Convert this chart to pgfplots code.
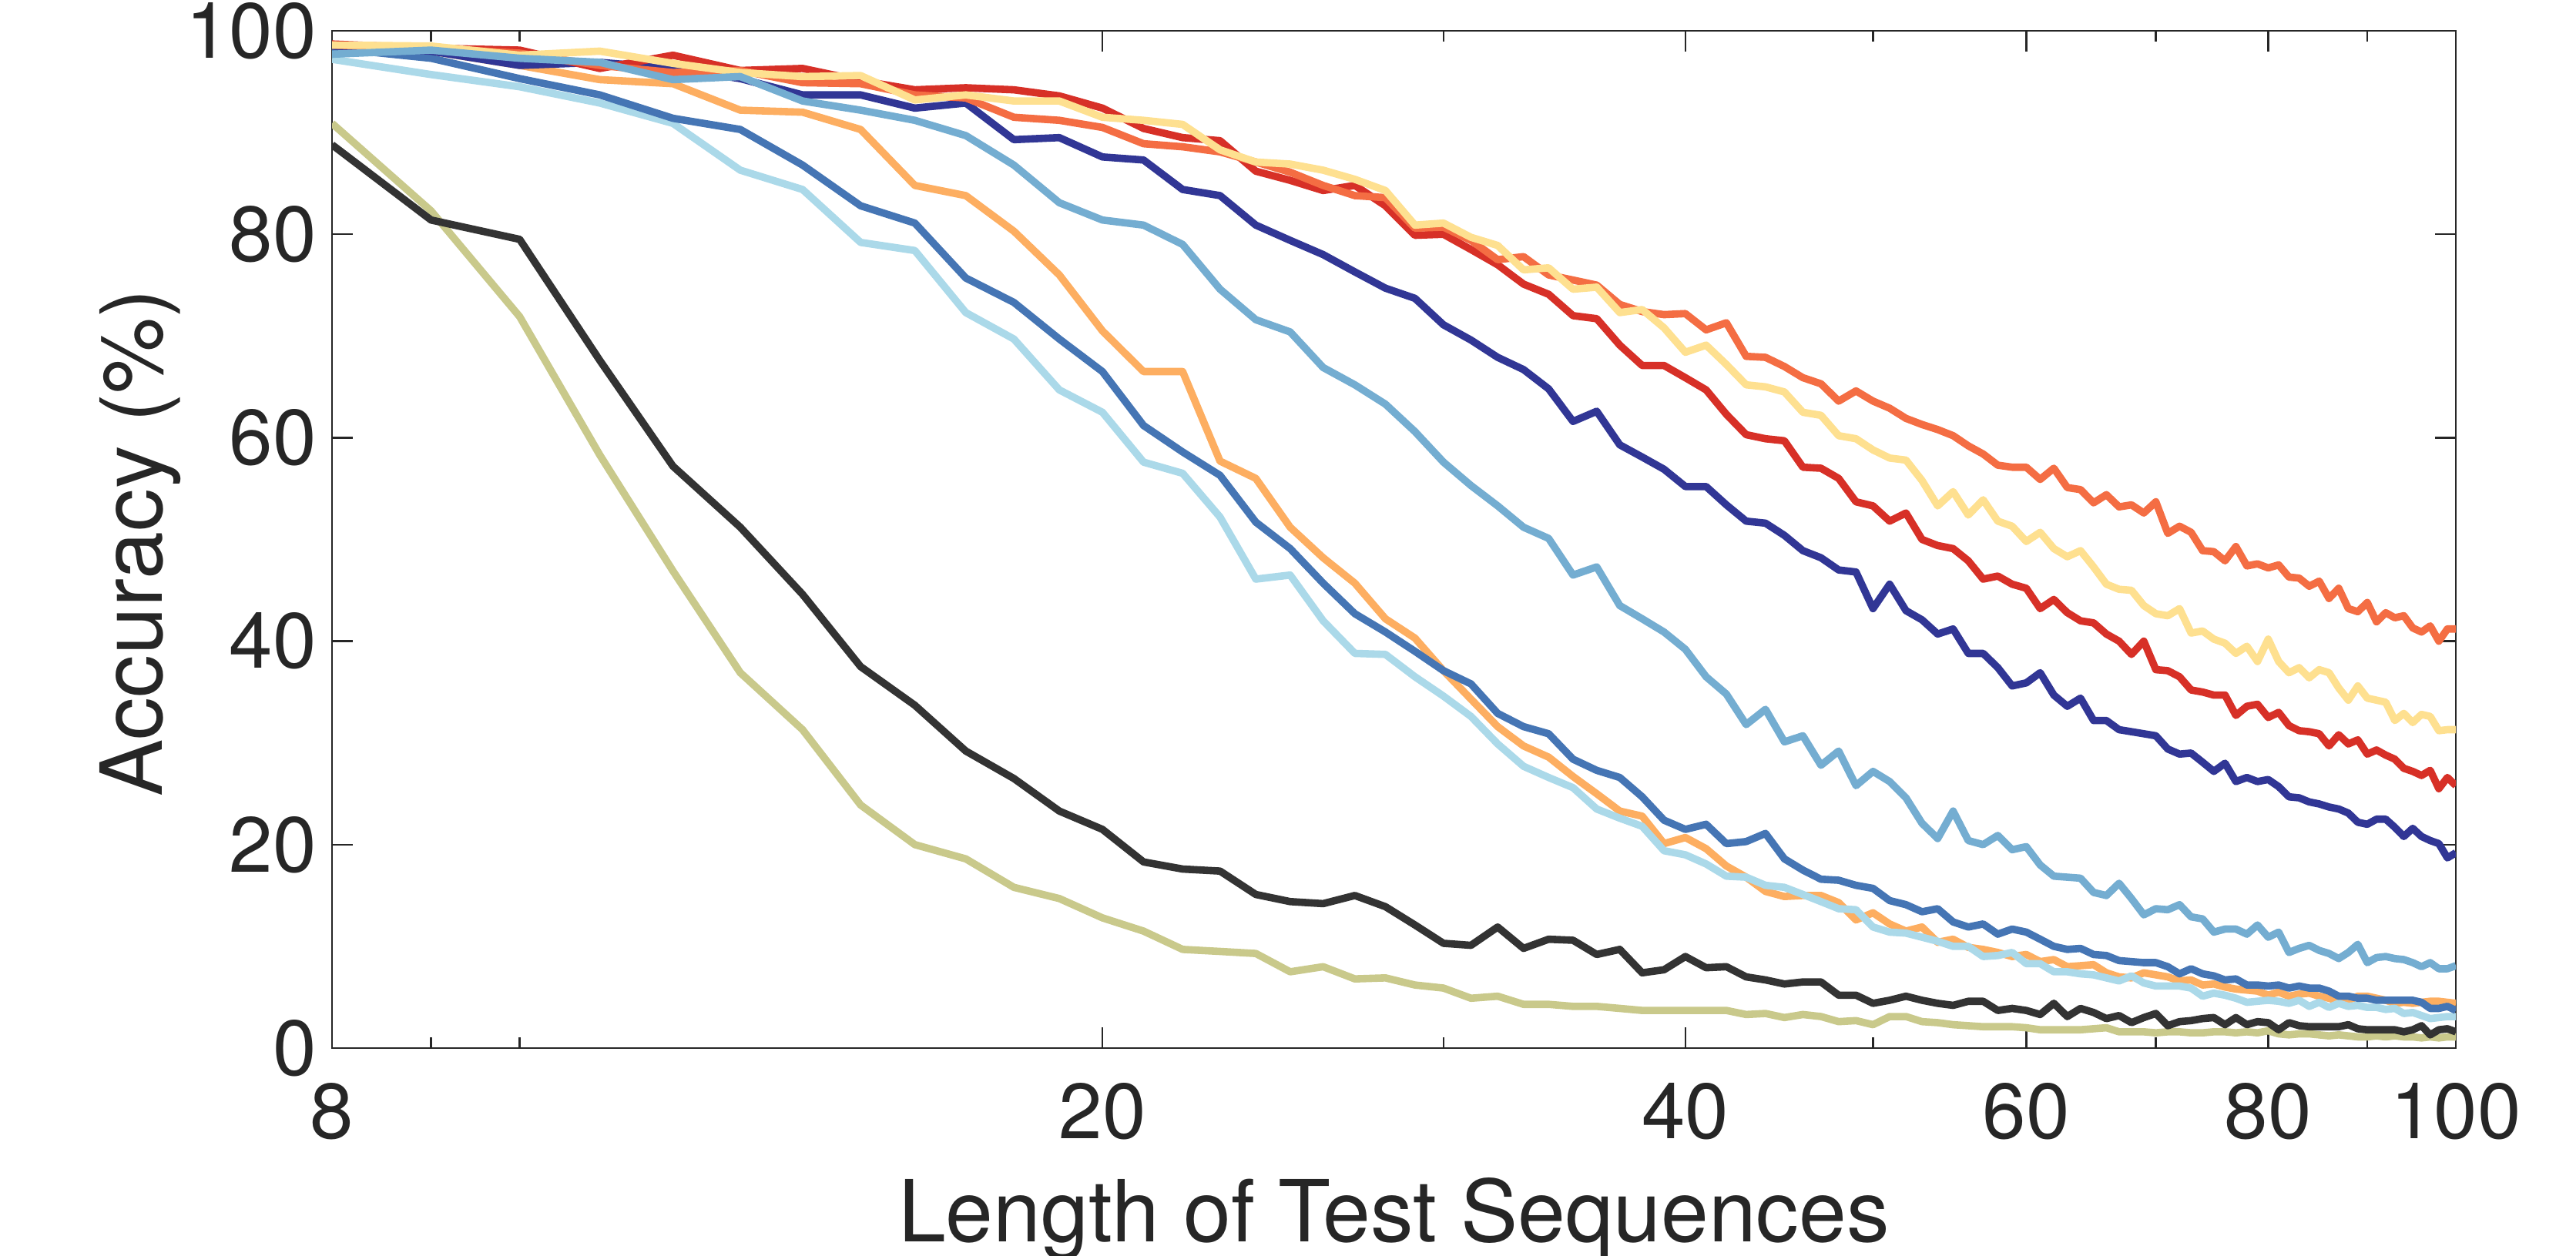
\documentclass[border=0pt]{standalone}
\usepackage{pgfplots}
\usepackage{pgfplotstable}
\pgfplotsset{compat=1.18}
\usepackage{fontspec}
\setmainfont{TeX Gyre Heros}
\definecolor{cR}{RGB}{215,48,39}
\definecolor{cO}{RGB}{244,109,67}
\definecolor{cY}{RGB}{254,224,144}
\definecolor{cA}{RGB}{253,174,97}
\definecolor{cDB}{RGB}{49,54,149}
\definecolor{cMB}{RGB}{69,117,180}
\definecolor{cLB}{RGB}{116,173,209}
\definecolor{cVB}{RGB}{171,217,233}
\definecolor{cK}{RGB}{51,51,51}
\definecolor{cG}{RGB}{201,201,139}
\definecolor{axgray}{RGB}{38,38,38}
\pgfplotstableread{
L red ored yel ora dblue mblue lblue vblue blk olv
8 98.7 98.6 98.6 98.6 98.5 98.3 97.7 97.2 88.8 90.9
9 98.3 98.3 98.5 98.0 98.0 97.3 98.1 95.7 81.4 82.3
10 98.1 97.8 97.6 96.6 96.6 95.3 97.3 94.5 79.5 71.9
11 96.3 96.6 98.0 95.2 96.9 93.7 96.9 92.9 67.6 58.3
12 97.6 95.9 96.8 94.8 96.3 91.4 95.2 90.9 57.2 46.9
13 96.1 96.1 95.9 92.2 95.3 90.3 95.5 86.3 51.2 36.9
14 96.3 94.9 95.5 92.0 93.7 86.8 93.1 84.4 44.6 31.3
15 95.1 94.8 95.6 90.3 93.7 82.8 92.2 79.2 37.5 23.9
16 94.2 93.7 93.2 84.8 92.4 81.1 91.2 78.4 33.7 20.0
17 94.4 93.4 93.7 83.8 92.9 75.7 89.7 72.3 29.2 18.6
18 94.2 91.5 93.1 80.3 89.3 73.3 86.8 69.7 26.5 15.8
19 93.6 91.2 93.1 76.0 89.5 69.7 83.1 64.7 23.3 14.7
20 92.4 90.5 91.5 70.5 87.6 66.5 81.4 62.5 21.5 12.8
21 90.4 88.9 91.2 66.5 87.3 61.2 80.9 57.6 18.3 11.5
22 89.5 88.6 90.8 66.5 84.4 58.6 79.0 56.5 17.6 9.7
23 89.2 88.1 88.3 57.7 83.8 56.3 74.6 52.2 17.4 9.5
24 86.2 87.1 87.1 56.0 80.9 51.7 71.6 46.1 15.1 9.3
25 85.3 86.1 86.9 51.2 79.4 49.1 70.4 46.5 14.4 7.5
26 84.3 84.8 86.3 48.2 78.0 45.7 66.9 42.0 14.2 8.0
27 84.8 83.8 85.4 45.7 76.3 42.7 65.2 38.8 15.0 6.8
28 82.8 83.6 84.3 42.2 74.7 40.9 63.3 38.7 13.9 6.9
29 79.9 80.6 80.9 40.3 73.7 39.0 60.6 36.5 12.1 6.2
30 80.0 80.7 81.1 37.1 71.1 37.1 57.6 34.6 10.3 5.9
31 78.5 79.4 79.7 34.3 69.6 35.8 55.3 32.6 10.1 4.9
32 77.0 77.5 78.9 31.6 67.9 32.9 53.3 29.9 11.9 5.1
33 75.1 77.8 76.5 29.7 66.7 31.6 51.2 27.7 9.8 4.3
34 74.1 76.0 76.7 28.6 64.8 30.9 50.1 26.6 10.7 4.3
35 72.0 75.5 74.6 26.7 61.6 28.4 46.5 25.6 10.6 4.1
36 71.7 75.0 74.8 25.0 62.6 27.3 47.3 23.5 9.2 4.1
37 69.1 73.1 72.3 23.3 59.3 26.6 43.5 22.6 9.7 3.9
38 67.1 72.4 72.6 22.8 58.1 24.7 42.2 21.8 7.4 3.7
39 67.1 72.1 70.8 20.1 56.9 22.4 40.9 19.4 7.7 3.7
40 65.9 72.2 68.4 20.7 55.2 21.5 39.2 19.0 9.0 3.7
41 64.7 70.6 69.1 19.6 55.2 22.0 36.5 18.1 7.9 3.7
42 62.3 71.3 67.2 17.9 53.4 20.1 34.8 16.9 8.0 3.7
43 60.3 68.0 65.2 16.8 51.8 20.3 31.8 16.8 7.0 3.3
44 59.9 67.9 65.0 15.4 51.6 21.1 33.3 16.0 6.7 3.4
45 59.7 67.0 64.5 14.9 50.4 18.6 30.1 15.8 6.3 3.0
46 57.1 65.9 62.5 15.0 48.9 17.5 30.7 15.1 6.5 3.3
47 57.0 65.3 62.2 15.0 48.2 16.6 27.8 14.4 6.5 3.1
48 56.0 63.6 60.2 14.3 47.0 16.5 29.2 13.7 5.2 2.6
49 53.7 64.6 59.9 12.6 46.8 16.0 25.8 13.6 5.2 2.7
50 53.3 63.6 58.8 13.3 43.2 15.7 27.2 11.9 4.4 2.3
51 51.8 62.9 58.0 12.2 45.6 14.5 26.2 11.4 4.7 3.1
52 52.6 61.9 57.8 11.5 43.0 14.1 24.6 11.3 5.1 3.1
53 50.0 61.3 55.8 11.9 42.1 13.4 22.1 10.9 4.7 2.6
54 49.4 60.8 53.3 10.4 40.7 13.7 20.6 10.5 4.4 2.5
55 49.1 60.2 54.7 10.7 41.2 12.4 23.3 10.0 4.2 2.3
56 47.9 59.2 52.4 9.9 38.8 11.9 20.4 10.0 4.6 2.2
57 46.1 58.4 53.9 9.7 38.8 12.2 20.0 9.0 4.6 2.1
58 46.4 57.3 51.8 9.4 37.4 11.2 20.9 9.1 3.7 2.1
59 45.6 57.1 51.3 9.0 35.6 11.7 19.5 9.4 3.9 2.1
60 45.2 57.1 49.8 9.2 35.9 11.4 19.8 8.3 3.7 2.0
61 43.2 55.9 50.7 8.5 36.9 10.7 18.0 8.3 3.3 1.8
62 44.1 57.0 49.1 8.7 34.7 10.0 16.9 7.5 4.4 1.8
63 42.8 55.1 48.3 8.0 33.6 9.7 16.8 7.5 3.1 1.8
64 42.0 54.9 48.9 8.1 34.4 9.8 16.7 7.3 3.9 1.8
65 41.8 53.6 47.3 8.2 32.2 9.2 15.3 7.2 3.5 1.9
66 40.7 54.4 45.6 7.4 32.2 9.1 15.0 6.9 2.9 2.0
67 40.0 53.2 45.1 7.0 31.3 8.6 16.2 6.6 3.2 1.6
68 38.7 53.4 45.0 6.9 31.1 8.5 14.7 7.1 2.5 1.6
69 40.0 52.6 43.5 7.4 30.9 8.4 13.1 6.4 3.0 1.6
70 37.2 53.7 42.7 7.2 30.7 8.4 13.7 6.1 3.4 1.5
71 37.1 50.6 42.5 7.0 29.4 8.0 13.6 6.1 2.2 1.6
72 36.5 51.3 43.2 6.6 28.9 7.3 14.1 6.1 2.6 1.6
73 35.2 50.7 40.8 6.7 29.0 7.8 12.9 5.9 2.7 1.5
74 35.0 48.9 41.0 6.2 28.1 7.3 12.7 5.1 2.9 1.5
75 34.7 48.8 40.2 6.3 27.2 7.1 11.4 5.4 3.0 1.6
76 34.7 47.9 39.8 6.0 28.0 6.7 11.7 5.2 2.3 1.6
77 32.7 49.3 38.8 5.8 26.2 6.8 11.7 4.9 3.0 1.5
78 33.6 47.4 39.5 5.7 26.6 6.2 11.2 4.5 2.3 1.6
79 33.8 47.6 38.0 5.6 26.2 6.2 12.1 4.6 2.6 1.5
80 32.5 47.2 40.2 5.2 26.4 6.1 10.9 4.7 2.5 1.7
81 33.0 47.5 38.0 5.5 25.7 6.2 11.4 4.6 1.8 1.4
82 31.7 46.3 36.9 5.1 24.7 5.9 9.4 4.4 2.5 1.3
83 31.2 46.2 37.4 5.3 24.6 6.1 9.8 4.7 2.2 1.4
84 31.1 45.4 36.4 5.4 24.2 5.9 10.1 4.1 2.1 1.4
85 30.9 45.9 37.2 5.1 24.0 5.9 9.6 4.5 2.1 1.3
86 29.7 44.2 36.9 4.9 23.7 5.6 9.3 4.0 2.1 1.2
87 30.8 45.2 35.4 4.6 23.5 5.1 8.8 4.4 2.1 1.3
88 29.9 43.2 34.2 4.7 23.1 5.1 9.4 4.1 2.3 1.2
89 30.3 42.9 35.6 5.1 22.2 4.9 10.2 4.2 1.9 1.1
90 28.9 43.8 34.4 5.1 22.0 4.9 8.4 4.0 1.8 1.1
91 29.3 41.9 34.2 4.9 22.5 4.7 8.9 4.0 1.8 1.2
92 28.8 42.8 34.0 4.7 22.5 4.7 9.0 3.8 1.8 1.1
93 28.4 42.3 32.2 4.4 21.7 4.7 8.8 3.9 1.8 1.2
94 27.5 42.5 32.9 4.5 20.8 4.7 8.7 3.4 1.6 1.1
95 27.2 41.3 32.0 4.4 21.6 4.7 8.4 3.5 1.8 1.1
96 26.8 40.9 32.8 4.5 20.8 4.5 8.0 3.2 2.2 1.0
97 27.3 41.5 32.6 4.6 20.4 3.9 8.4 2.9 1.3 1.1
98 25.5 40.0 31.2 4.6 20.1 3.9 7.8 3.0 1.8 1.0
99 26.6 41.2 31.3 4.5 18.7 4.1 7.8 3.1 1.9 1.1
100 25.8 41.2 31.3 4.4 19.2 3.7 8.1 3.1 1.6 1.1
}\data
\begin{document}
\begin{tikzpicture}
\useasboundingbox (-53.875pt,-33.625pt) rectangle (364.125pt,170.125pt);
\begin{axis}[
  at={(0,0)}, anchor=south west,
  scale only axis,
  width=344.625pt, height=165.125pt,
  xmode=log, xmin=8, xmax=100,
  ymin=0, ymax=100,
  xtick={8,20,40,60,80,100},
  xticklabels={8,20,40,60,80,100},
  minor xtick={9,10,30,50,70,90},
  ytick={0,20,40,60,80,100},
  yticklabels={0,20,40,60,80,100},
  /pgf/number format/assume math mode=true,
  tick align=inside,
  major tick length=3.4pt,
  minor tick length=1.7pt,
  tick style={line width=0.3pt, color=axgray},
  axis line style={line width=0.35pt, draw=axgray},
  ticklabel style={font=\fontsize{12.7}{15}\selectfont, text=axgray},
  xticklabel style={yshift=-2.1pt},
  yticklabel style={xshift=1pt},
  label style={font=\fontsize{13.9}{16}\selectfont, text=axgray},
  xlabel={Length of Test Sequences},
  xlabel style={at={(axis description cs:0.5,-0.190)}, anchor=base},
  ylabel={Accuracy (\%)},
  ylabel style={at={(axis description cs:-0.0801,0.4966)}, anchor=base},
  every axis plot/.append style={line width=1.2pt, line join=round, mark=none},
]
\addplot[cG] table[x=L, y=olv] {\data};
\addplot[cK] table[x=L, y=blk] {\data};
\addplot[cA] table[x=L, y=ora] {\data};
\addplot[cVB] table[x=L, y=vblue] {\data};
\addplot[cMB] table[x=L, y=mblue] {\data};
\addplot[cDB] table[x=L, y=dblue] {\data};
\addplot[cR] table[x=L, y=red] {\data};
\addplot[cO] table[x=L, y=ored] {\data};
\addplot[cY] table[x=L, y=yel] {\data};
\addplot[cLB] table[x=L, y=lblue] {\data};
\end{axis}
\end{tikzpicture}
\end{document}
